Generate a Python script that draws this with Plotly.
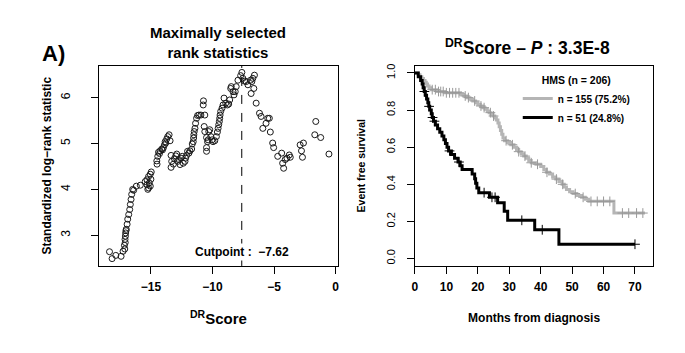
import numpy as np
import plotly.graph_objects as go

# ---------------- Left panel: maximally selected rank statistics ----------------
score_x = [-18.36, -18.15, -17.85, -17.42, -17.26, -17.15, -17.12, -17.10, -17.08, -17.07,
           -17.05, -17.02, -17.00, -16.93, -16.88, -16.80, -16.72, -16.67, -16.61, -16.56,
           -16.48, -16.40, -16.18, -15.86,
           -15.46, -15.32, -15.32, -15.25, -15.19, -15.19, -15.13, -15.05, -15.05, -14.97, -15.00,
           -14.52, -14.50, -14.44, -14.38, -14.30, -14.25, -14.11, -14.06, -13.98, -13.90,
           -13.84, -13.79, -13.71, -13.63, -13.52, -13.44,
           -13.36, -13.36, -13.31, -13.17, -13.09, -12.98, -12.90, -12.82, -12.72, -12.63,
           -12.55, -12.45, -12.37, -12.23, -12.18, -12.10, -12.02, -11.91, -11.83, -11.69,
           -11.64, -11.56, -11.53, -11.51, -11.48, -11.42, -11.37, -11.29, -11.21, -11.10,
           -10.94, -10.75, -10.73, -10.67, -10.62, -10.62, -10.48, -10.48, -10.48, -10.40,
           -10.35, -10.30, -10.22, -10.13, -10.03, -9.95, -9.81, -9.68, -9.60, -9.54,
           -9.49, -9.44, -9.41, -9.38, -9.33, -9.22, -9.14, -9.06, -8.92, -8.79,
           -8.68, -8.60, -8.52, -8.47, -8.33, -8.25, -8.15, -8.07, -7.93, -7.71,
           -7.61, -7.53, -7.39, -7.26, -7.12, -6.91, -6.86, -6.80, -6.72, -6.64,
           -6.59, -6.45, -6.18, -6.05, -5.91, -5.65, -5.51, -5.38, -5.30, -5.11,
           -5.03, -4.70, -4.38, -4.30, -4.22, -4.09, -3.95, -3.76, -3.68, -2.88,
           -2.77, -2.69, -2.61, -1.69, -1.61, -1.21, -0.54]
score_y = [2.64, 2.49, 2.56, 2.54, 2.65, 2.78, 2.70, 2.91, 2.84, 2.98,
           3.05, 3.10, 3.13, 3.24, 3.35, 3.45, 3.56, 3.67, 3.78, 3.89,
           4.00, 3.98, 4.07, 4.09,
           4.17, 4.10, 4.21, 4.00, 4.03, 4.28, 4.14, 4.07, 4.33, 4.38, 4.22,
           4.62, 4.55, 4.72, 4.81, 4.78, 4.84, 4.88, 4.86, 4.91, 4.97,
           5.04, 5.01, 5.10, 5.15, 5.19, 5.06,
           4.74, 4.48, 4.61, 4.55, 4.67, 4.73, 4.77, 4.61, 4.65, 4.54,
           4.68, 4.72, 4.57, 4.61, 4.68, 4.74, 4.83, 4.79, 4.84, 4.88,
           4.99, 5.04, 5.12, 5.19, 5.26, 5.33, 5.44, 5.55, 5.61, 5.62,
           5.62, 5.84, 5.93, 5.37, 5.62, 5.26, 5.13, 4.91, 4.83, 5.04,
           5.08, 5.26, 5.30, 5.15, 5.08, 5.04, 5.06, 5.15, 5.25, 5.33,
           5.41, 5.48, 5.55, 5.62, 5.70, 5.77, 5.84, 5.99, 5.88, 5.84,
           5.86, 5.95, 6.20, 6.24, 6.13, 6.06, 6.13, 6.24, 6.38, 6.48,
           6.55, 6.42, 6.36, 6.35, 6.28, 6.38, 6.09, 6.35, 6.42, 6.20,
           6.49, 5.88, 5.66, 5.59, 5.33, 5.44, 5.55, 5.55, 5.25, 5.01,
           4.91, 4.72, 4.79, 4.57, 4.46, 4.65, 4.68, 4.75, 4.70, 4.97,
           4.84, 4.70, 5.01, 5.19, 5.48, 5.13, 4.77]
cutpoint = -7.62
cut_label_y = 2.64
left_xticks = [-15, -10, -5, 0]
left_yticks = [3, 4, 5, 6]

# ---------------- Right panel: Kaplan-Meier curves ----------------
gray_t = [0, 1.0, 1.6, 2.2, 2.7, 3.2, 3.6, 4.0, 4.5, 5.2, 7.0, 9.5, 14.5, 15.5, 16.5, 17.5,
          18.4, 19.3, 20.0, 20.8, 21.6, 22.3, 23.0, 23.6, 24.2, 24.8, 25.4, 25.9, 26.4, 26.8,
          27.2, 27.6, 28.0, 28.5, 29.5, 30.5, 31.5, 32.3, 33.0, 33.8, 34.6, 35.4, 36.2, 37.0,
          38.5, 40.0, 41.0, 41.8, 42.8, 43.8, 44.8, 45.8, 46.8, 47.5, 48.2, 49.2, 50.3, 51.5,
          53.0, 54.2, 55.3, 63.3, 73.2]
gray_s = [1.0, 0.99, 0.98, 0.97, 0.96, 0.95, 0.94, 0.93, 0.92, 0.91, 0.90, 0.893, 0.885, 0.876,
          0.867, 0.858, 0.849, 0.84, 0.831, 0.822, 0.813, 0.804, 0.795, 0.786, 0.777, 0.768,
          0.757, 0.746, 0.73, 0.71, 0.69, 0.67, 0.65, 0.635, 0.625, 0.613, 0.60, 0.588, 0.576,
          0.564, 0.552, 0.54, 0.528, 0.516, 0.508, 0.496, 0.48, 0.465, 0.455, 0.44, 0.428,
          0.415, 0.40, 0.385, 0.372, 0.36, 0.35, 0.34, 0.33, 0.32, 0.308, 0.245, 0.245]
gray_cens = [5.5, 6.5, 7.5, 8.2, 9.0, 10.0, 11.0, 12.0, 13.0, 14.0, 16.0, 17.0, 19.0, 21.0,
             22.0, 24.0, 25.0, 29.0, 31.0, 33.0, 35.0, 37.0, 39.0, 42.0, 45.0, 47.0, 51.0,
             53.5, 56.0, 58.0, 60.0, 62.0, 66.0, 68.0, 70.5, 72.5]

black_t = [0, 1.06, 1.8, 2.3, 2.6, 2.95, 3.3, 3.7, 4.1, 4.4, 4.7, 5.2, 5.5, 5.9, 6.5, 7.2, 7.9,
           8.6, 9.2, 9.7, 10.2, 10.7, 11.6, 12.6, 13.7, 14.4, 15.0, 18.2, 19.0, 19.3, 19.7,
           20.3, 23.7, 26.3, 28.4, 29.5, 38.1, 45.8, 70.0]
black_s = [1.0, 0.98, 0.96, 0.94, 0.92, 0.90, 0.88, 0.86, 0.84, 0.82, 0.80, 0.78, 0.76, 0.74,
           0.72, 0.70, 0.68, 0.66, 0.64, 0.62, 0.60, 0.58, 0.56, 0.54, 0.52, 0.50, 0.48, 0.455,
           0.43, 0.405, 0.38, 0.355, 0.33, 0.30, 0.255, 0.206, 0.155, 0.077, 0.077]
black_cens = [3.0, 4.5, 5.6, 6.2, 11.0, 14.0, 22.0, 24.5, 25.5, 34.0, 40.5, 70.0]

right_xticks = [0, 10, 20, 30, 40, 50, 60, 70]
right_yticks = [0.0, 0.2, 0.4, 0.6, 0.8, 1.0]


def surv_at(times, surv, pts):
    times = np.asarray(times)
    surv = np.asarray(surv)
    idx = np.searchsorted(times, np.asarray(pts), side="right") - 1
    return surv[idx]


FONT = "Arial, Liberation Sans, sans-serif"
GRAY = "#b5b5b5"

fig = go.Figure()

fig.add_trace(go.Scatter(
    x=score_x, y=score_y, mode="markers", xaxis="x", yaxis="y", showlegend=False,
    marker=dict(symbol="circle-open", size=6, color="#1a1a1a", line=dict(width=1)),
))

fig.add_trace(go.Scatter(
    x=gray_t, y=gray_s, mode="lines", line=dict(color=GRAY, width=3, shape="hv"),
    xaxis="x2", yaxis="y2", name="n = 155 (75.2%)",
))
fig.add_trace(go.Scatter(
    x=black_t, y=black_s, mode="lines", line=dict(color="black", width=3, shape="hv"),
    xaxis="x2", yaxis="y2", name="n = 51 (24.8%)",
))
fig.add_trace(go.Scatter(
    x=gray_cens, y=surv_at(gray_t, gray_s, gray_cens), mode="markers", showlegend=False,
    xaxis="x2", yaxis="y2",
    marker=dict(symbol="cross-thin-open", size=7, color="#999999", line=dict(width=1, color="#999999")),
))
fig.add_trace(go.Scatter(
    x=black_cens, y=surv_at(black_t, black_s, black_cens), mode="markers", showlegend=False,
    xaxis="x2", yaxis="y2",
    marker=dict(symbol="cross-thin-open", size=7, color="black", line=dict(width=1, color="black")),
))

axis_common = dict(showline=True, mirror=True, linecolor="black", linewidth=1, ticks="outside",
                   ticklen=7, tickwidth=1, tickcolor="black", showgrid=False, zeroline=False)

fig.update_layout(
    width=685, height=353,
    margin=dict(l=0, r=0, t=0, b=0),
    paper_bgcolor="white", plot_bgcolor="white",
    font=dict(family=FONT, color="black"),
    xaxis=dict(domain=[0.1416, 0.4920], range=[-19.19, 0.16], tickvals=left_xticks,
               tickfont=dict(size=12, weight="bold"), ticklabelstandoff=3,
               title=dict(text="<sup>DR</sup>Score", font=dict(size=15, weight="bold"), standoff=20),
               **axis_common),
    yaxis=dict(domain=[0.248, 0.819], range=[2.33, 6.70], tickvals=left_yticks, tickangle=-90,
               tickfont=dict(size=12), ticklabelstandoff=16,
               title=dict(text="Standardized log\u2212rank statistic", font=dict(size=12, weight="bold"),
                          standoff=5),
               **axis_common),
    xaxis2=dict(domain=[0.6058, 0.9562], range=[0, 75.8], tickvals=right_xticks, anchor="y2",
                tickfont=dict(size=12, weight="bold"), ticklabelstandoff=3,
                title=dict(text="Months from diagnosis", font=dict(size=12, weight="bold"), standoff=20),
                **axis_common),
    yaxis2=dict(domain=[0.248, 0.819], range=[-0.04, 1.04], tickvals=right_yticks, tickformat=".1f",
                tickangle=-90, anchor="x2", tickfont=dict(size=11), ticklabelstandoff=8,
                title=dict(text="Event free survival", font=dict(size=10.5, weight="bold"), standoff=16),
                **axis_common),
    legend=dict(x=0.757, y=0.805, xanchor="left", yanchor="top", bgcolor="rgba(0,0,0,0)",
                font=dict(size=10, weight="bold"), tracegroupgap=0, itemwidth=30,
                title=dict(text="HMS (n = 206)", side="top center", font=dict(size=10.5, weight="bold"))),
    shapes=[dict(type="line", xref="x", yref="y domain", x0=cutpoint, x1=cutpoint, y0=0, y1=1,
                 line=dict(color="black", width=1, dash="dash"))],
    annotations=[
        dict(text="A)", xref="paper", yref="paper", x=0.0745, y=0.853, xanchor="center",
             yanchor="middle", showarrow=False, font=dict(size=22, weight="bold")),
        dict(text="Maximally selected<br>rank statistics", xref="paper", yref="paper",
             x=0.316, y=0.884, xanchor="center", yanchor="middle", showarrow=False,
             font=dict(size=15, weight="bold")),
        dict(text="<sup>DR</sup>Score \u2013 <i>P</i> : 3.3E-8", xref="paper", yref="paper",
             x=0.772, y=0.872, xanchor="center", yanchor="middle", showarrow=False,
             font=dict(size=17.5, weight="bold")),
        dict(text="Cutpoint :  \u22127.62", xref="x", yref="y", x=cutpoint, y=cut_label_y,
             xanchor="center", yanchor="middle",
             showarrow=False, bgcolor="white", font=dict(size=12, weight="bold")),
    ],
)

fig.write_html("out.html")
